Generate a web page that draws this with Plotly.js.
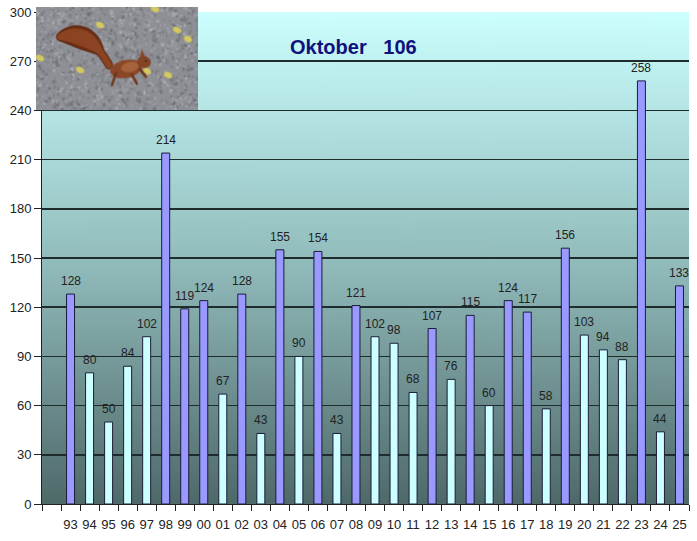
<!DOCTYPE html>
<html>
<head>
<meta charset="utf-8">
<script src="https://cdn.plot.ly/plotly-3.0.1.min.js"></script>
<style>
  html, body { margin: 0; padding: 0; background: #fff; }
  #chart { width: 697px; height: 541px; }
</style>
</head>
<body>
<div id="chart"></div>
<script>
// October counts per year ('93 .. '25)
const years = ['93','94','95','96','97','98','99','00','01','02','03','04','05','06','07','08',
  '09','10','11','12','13','14','15','16','17','18','19','20','21','22','23','24','25'];
const counts = [128, 80, 50, 84, 102, 214, 119, 124, 67, 128, 43, 155, 90, 154, 43, 121,
  102, 98, 68, 107, 76, 115, 60, 124, 117, 58, 156, 103, 94, 88, 258, 44, 133];
const monthName = 'Oktober';

const avg = counts.reduce((a, b) => a + b, 0) / counts.length;
// one empty slot before the first year, as in the original sheet
const cats = [' '].concat(years);

// plot background: vertical gradient, light cyan to slate
function gradientImage() {
  const c = document.createElement('canvas');
  c.width = 8; c.height = 256;
  const g = c.getContext('2d');
  const lg = g.createLinearGradient(0, 0, 0, 256);
  lg.addColorStop(0, '#ccffff');
  lg.addColorStop(0.5, '#93bdbd');
  lg.addColorStop(1, '#4f6969');
  g.fillStyle = lg;
  g.fillRect(0, 0, 8, 256);
  return c.toDataURL();
}

// little photo in the corner: squirrel on gravel
function squirrelImage() {
  const W = 324, H = 206, s = 2;
  const c = document.createElement('canvas');
  c.width = W; c.height = H;
  const g = c.getContext('2d');
  g.fillStyle = '#8e9096';
  g.fillRect(0, 0, W, H);
  let seed = 7;
  const rnd = () => { seed = (seed * 16807) % 2147483647; return seed / 2147483647; };
  g.filter = 'blur(1px)';
  for (let i = 0; i < 1600; i++) {
    const v = Math.floor(105 + rnd() * 70);
    g.fillStyle = `rgb(${v},${v + 2},${v + 8})`;
    g.beginPath();
    g.ellipse(rnd() * W, rnd() * H, 1.5 + rnd() * 3, 1 + rnd() * 2, rnd() * 3, 0, 2 * Math.PI);
    g.fill();
  }
  // leaves
  g.fillStyle = '#d4c860';
  [[64, 18], [141, 23], [4, 51], [44, 63], [132, 68], [111, 64], [119, 2], [152, 32]].forEach(p => {
    g.beginPath();
    g.ellipse(p[0] * s, p[1] * s, 9, 6, 0.5, 0, 2 * Math.PI);
    g.fill();
  });
  // bushy tail: discs along a curve, fattest in the middle
  const bez = (t, a, b, d) => (1 - t) * (1 - t) * a + 2 * (1 - t) * t * b + t * t * d;
  [['#6a3018', 1.0], ['#8c4524', 0.7]].forEach(([col, k]) => {
    g.fillStyle = col;
    for (let t = 0; t <= 1; t += 0.02) {
      const x = bez(t, 24, 54, 74) * s;
      const y = bez(t, 30, 22, 60) * s;
      const r = (4 + 7 * Math.sin(Math.PI * Math.min(1, t * 1.3))) * s * k;
      g.beginPath();
      g.arc(x, y, r, 0, 2 * Math.PI);
      g.fill();
    }
  });
  // body
  g.fillStyle = '#8a4828';
  g.beginPath();
  g.ellipse(90 * s, 62 * s, 16 * s, 9 * s, -0.2, 0, 2 * Math.PI);
  g.fill();
  g.fillStyle = '#a6623a';
  g.beginPath();
  g.ellipse(94 * s, 60 * s, 9 * s, 5 * s, -0.2, 0, 2 * Math.PI);
  g.fill();
  // head and ear
  g.fillStyle = '#844526';
  g.beginPath();
  g.ellipse(108 * s, 55 * s, 7 * s, 6 * s, 0.2, 0, 2 * Math.PI);
  g.fill();
  g.beginPath();
  g.moveTo(104 * s, 50 * s); g.lineTo(106 * s, 42 * s); g.lineTo(109 * s, 50 * s);
  g.fill();
  g.fillStyle = '#222';
  g.beginPath();
  g.arc(110 * s, 54 * s, 1.8, 0, 2 * Math.PI);
  g.fill();
  // legs
  g.strokeStyle = '#6e3418';
  g.lineCap = 'round';
  g.lineWidth = 5;
  [[80, 66, 76, 78], [96, 68, 101, 77], [104, 62, 110, 70]].forEach(l => {
    g.beginPath();
    g.moveTo(l[0] * s, l[1] * s);
    g.lineTo(l[2] * s, l[3] * s);
    g.stroke();
  });
  return c.toDataURL();
}

const trace = {
  type: 'bar',
  x: cats,
  y: [null].concat(counts),
  width: 0.42,
  marker: {
    color: [null].concat(counts.map(v => v > avg ? '#9999ff' : '#ccffff')),
    line: { color: '#1c1c3a', width: 1 }
  },
  hoverinfo: 'x+y'
};

// value labels, a few px above each bar (x given as category index)
const valueLabels = counts.map((v, i) => ({
  x: cats.indexOf(years[i]), y: v, xref: 'x', yref: 'y',
  text: String(v),
  showarrow: false,
  yanchor: 'bottom',
  yshift: 4,
  font: { family: 'Liberation Sans, Arial, sans-serif', size: 12, color: '#222' }
}));

const layout = {
  width: 697,
  height: 541,
  margin: { l: 42, r: 8, t: 12, b: 37 },
  paper_bgcolor: '#ffffff',
  plot_bgcolor: 'rgba(0,0,0,0)',
  showlegend: false,
  font: { family: 'Liberation Sans, Arial, sans-serif', color: '#222' },
  xaxis: {
    type: 'category',
    categoryorder: 'array',
    categoryarray: cats,
    range: [-0.5, cats.length - 0.5],
    tickson: 'boundaries',
    tickangle: 0,
    ticks: 'outside',
    ticklen: 6,
    tickcolor: '#222',
    ticklabelstandoff: 8,
    showgrid: false,
    showline: true,
    linecolor: '#222',
    tickfont: { size: 13, color: '#222' },
    fixedrange: true
  },
  yaxis: {
    range: [0, 300],
    dtick: 30,
    ticks: 'outside',
    ticklen: 7,
    tickcolor: '#222',
    showline: true,
    linecolor: '#222',
    showgrid: true,
    gridcolor: '#1f2c2c',
    gridwidth: 1.6,
    zeroline: false,
    tickfont: { size: 13, color: '#222' },
    fixedrange: true
  },
  images: [
    {
      source: gradientImage(),
      xref: 'paper', yref: 'paper',
      x: 0, y: 1, sizex: 1, sizey: 1,
      xanchor: 'left', yanchor: 'top',
      sizing: 'stretch', layer: 'below'
    },
    {
      source: squirrelImage(),
      xref: 'paper', yref: 'paper',
      x: -0.0093, y: 1.0102, sizex: 0.2504, sizey: 0.2093,
      xanchor: 'left', yanchor: 'top',
      sizing: 'stretch', layer: 'above'
    }
  ],
  annotations: valueLabels.concat([{
    text: '<b>' + monthName + '\u00a0\u00a0\u00a0' + Math.round(avg) + '</b>',
    xref: 'paper', yref: 'paper',
    x: 0.482, y: 0.929,
    xanchor: 'center', yanchor: 'middle',
    showarrow: false,
    font: { family: 'Liberation Sans, Arial, sans-serif', size: 20, color: '#10107a' }
  }])
};

Plotly.newPlot('chart', [trace], layout, { displayModeBar: false, staticPlot: true });
</script>
</body>
</html>
